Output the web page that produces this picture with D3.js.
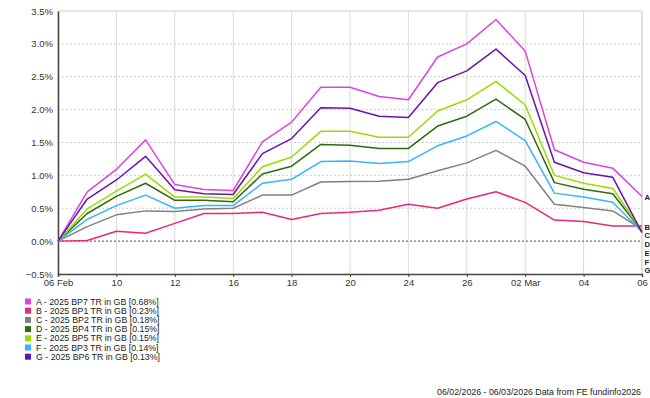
<!DOCTYPE html>
<html>
<head>
<meta charset="utf-8">
<script src="https://d3js.org/d3.v7.min.js"></script>
<style>
    body { margin: 0; background: #fff; }
    svg { display: block; font-family: "Liberation Sans", Arial, sans-serif; }
</style>
</head>
<body>
<div id="chart"></div>
<script>
// trading days only, weekends are skipped on the x axis
const dates = ["2026-02-06", "2026-02-09", "2026-02-10", "2026-02-11", "2026-02-12", "2026-02-13",
    "2026-02-16", "2026-02-17", "2026-02-18", "2026-02-19", "2026-02-20", "2026-02-23",
    "2026-02-24", "2026-02-25", "2026-02-26", "2026-02-27", "2026-03-02", "2026-03-03",
    "2026-03-04", "2026-03-05", "2026-03-06"];

const tickDates  = ["2026-02-06", "2026-02-10", "2026-02-12", "2026-02-16", "2026-02-18", "2026-02-20",
    "2026-02-24", "2026-02-26", "2026-03-02", "2026-03-04", "2026-03-06"];
const tickLabels = ["06 Feb", "10", "12", "16", "18", "20", "24", "26", "02 Mar", "04", "06"];

const yTicks = [-0.5, 0, 0.5, 1.0, 1.5, 2.0, 2.5, 3.0, 3.5];

const letters = ["A", "B", "C", "D", "E", "F", "G"];
const names   = ["2025 BP7 TR in GB", "2025 BP1 TR in GB", "2025 BP2 TR in GB", "2025 BP4 TR in GB",
    "2025 BP5 TR in GB", "2025 BP3 TR in GB", "2025 BP6 TR in GB"];
const finals  = ["0.68%", "0.23%", "0.18%", "0.15%", "0.15%", "0.14%", "0.13%"];
const colors  = ["#dd44dd", "#e8287a", "#808080", "#2f6a10", "#99dd00", "#33b5ff", "#6a11b0"];

// cumulative total return, %
const seriesA = [0, 0.75, 1.09, 1.54, 0.86, 0.785, 0.77, 1.51, 1.81, 2.34, 2.34, 2.20, 2.15, 2.80, 3.00, 3.37, 2.89, 1.39, 1.20, 1.11, 0.68];
const seriesB = [0, 0.01, 0.15, 0.12, 0.27, 0.42, 0.42, 0.44, 0.33, 0.42, 0.44, 0.47, 0.56, 0.50, 0.64, 0.75, 0.59, 0.32, 0.30, 0.23, 0.23];
const seriesC = [0, 0.22, 0.40, 0.46, 0.45, 0.49, 0.50, 0.70, 0.70, 0.90, 0.905, 0.91, 0.94, 1.07, 1.19, 1.38, 1.14, 0.56, 0.51, 0.46, 0.18];
const seriesD = [0, 0.42, 0.68, 0.88, 0.62, 0.62, 0.60, 1.02, 1.14, 1.47, 1.46, 1.41, 1.41, 1.75, 1.90, 2.16, 1.85, 0.89, 0.79, 0.72, 0.15];
const seriesE = [0, 0.49, 0.76, 1.02, 0.67, 0.67, 0.65, 1.13, 1.28, 1.67, 1.67, 1.58, 1.58, 1.98, 2.15, 2.43, 2.07, 1.00, 0.88, 0.80, 0.15];
const seriesF = [0, 0.33, 0.54, 0.70, 0.50, 0.54, 0.54, 0.88, 0.94, 1.21, 1.22, 1.18, 1.21, 1.45, 1.60, 1.82, 1.53, 0.73, 0.67, 0.59, 0.14];
const seriesG = [0, 0.64, 0.93, 1.29, 0.78, 0.72, 0.71, 1.33, 1.56, 2.03, 2.02, 1.90, 1.88, 2.41, 2.59, 2.92, 2.52, 1.20, 1.04, 0.97, 0.13];

const allSeries = [seriesA, seriesB, seriesC, seriesD, seriesE, seriesF, seriesG];

const footer = "06/02/2026 - 06/03/2026 Data from FE fundinfo2026";

///////////
/// Box ///
///////////

const W = 650, H = 398;
const margin = {top: 11, right: 8, bottom: 124, left: 58};
const width  = W - margin.left - margin.right;
const height = H - margin.top - margin.bottom;

const svg = d3.select("#chart")
    .append("svg")
    .attr("width", W)
    .attr("height", H);

const g = svg.append("g")
    .attr("transform", "translate(" + margin.left + "," + margin.top + ")");

const x = d3.scalePoint()
    .domain(dates)
    .range([0, width]);

const y = d3.scaleLinear()
    .domain([-0.5, 3.5])
    .range([height, 0]);

////////////
/// Grid ///
////////////

g.append("g")
    .selectAll("line")
    .data(tickDates)
    .enter()
    .append("line")
    .attr("x1", d => x(d))
    .attr("x2", d => x(d))
    .attr("y1", 0)
    .attr("y2", height)
    .attr("stroke", "#dadada")
    .attr("stroke-width", 1);

g.append("g")
    .selectAll("line")
    .data(yTicks.filter(v => v > 0 && v < 3.5))
    .enter()
    .append("line")
    .attr("x1", 0)
    .attr("x2", width)
    .attr("y1", d => y(d))
    .attr("y2", d => y(d))
    .attr("stroke", "#cfcfcf")
    .attr("stroke-dasharray", "2,2");

// top and right border
g.append("line")
    .attr("x1", 0).attr("x2", width)
    .attr("y1", y(3.5)).attr("y2", y(3.5))
    .attr("stroke", "#d0d0d0");
g.append("line")
    .attr("x1", width).attr("x2", width)
    .attr("y1", 0).attr("y2", height)
    .attr("stroke", "#d0d0d0");

// zero line
g.append("line")
    .attr("x1", 0).attr("x2", width)
    .attr("y1", y(0)).attr("y2", y(0))
    .attr("stroke", "#555")
    .attr("stroke-dasharray", "2,2");

////////////
/// Axes ///
////////////

const xAxis = g.append("g")
    .attr("transform", "translate(0," + height + ")")
    .call(d3.axisBottom(x)
        .tickValues(tickDates)
        .tickSize(3)
        .tickPadding(2)
        .tickFormat((d, i) => tickLabels[i]));
xAxis.select(".domain").attr("stroke", "#444").attr("stroke-width", 1.5);
xAxis.selectAll(".tick line").attr("stroke", "#444");
xAxis.selectAll("text")
    .attr("fill", "#333")
    .style("font-size", "9.5px");

const yAxis = g.append("g")
    .call(d3.axisLeft(y)
        .tickValues(yTicks)
        .tickSize(0)
        .tickPadding(5)
        .tickFormat(d => d3.format(".1f")(d) + "%"));
yAxis.select(".domain").attr("stroke", "#444").attr("stroke-width", 1.5);
yAxis.selectAll("text")
    .attr("fill", "#333")
    .style("font-size", "9.5px");

/////////////
/// Lines ///
/////////////

const line = d3.line()
    .x((d, i) => x(dates[i]))
    .y(d => y(d));

g.append("g")
    .selectAll("path")
    .data(allSeries)
    .enter()
    .append("path")
    .attr("d", d => line(d))
    .attr("fill", "none")
    .attr("stroke", (d, i) => colors[i])
    .attr("stroke-width", 1.5)
    .attr("stroke-linejoin", "round");

// end labels, pushed down so they don't overlap
let prev = -Infinity;
letters.forEach((l, i) => {
    const s = allSeries[i];
    let ly = Math.max(y(s[s.length - 1]) + 1, prev + 8.7);
    prev = ly;
    g.append("text")
        .attr("x", width + 2.5)
        .attr("y", ly)
        .attr("dy", "0.36em")
        .attr("fill", "#222")
        .style("font-size", "7.6px")
        .style("font-weight", "bold")
        .text(l);
});

//////////////
/// Legend ///
//////////////

const legend = svg.append("g")
    .attr("transform", "translate(25,301.5)");

const rows = legend.selectAll("g")
    .data(letters)
    .enter()
    .append("g")
    .attr("transform", (d, i) => "translate(0," + (i * 9.2) + ")");

rows.append("rect")
    .attr("x", 0)
    .attr("y", -3)
    .attr("width", 6)
    .attr("height", 6)
    .attr("fill", (d, i) => colors[i]);

rows.append("text")
    .attr("x", 11)
    .attr("y", 0)
    .attr("dy", "0.35em")
    .attr("fill", "#222")
    .style("font-size", "8.8px")
    .text((d, i) => d + " - " + names[i] + " [" + finals[i] + "]");

svg.append("text")
    .attr("x", 641)
    .attr("y", 392)
    .attr("dy", "0.35em")
    .attr("text-anchor", "end")
    .attr("fill", "#222")
    .style("font-size", "8.8px")
    .text(footer);
</script>
</body>
</html>
